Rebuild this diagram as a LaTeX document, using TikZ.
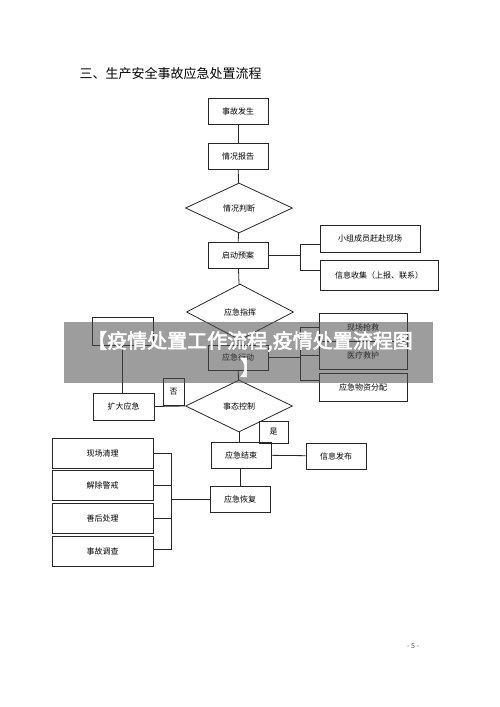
\documentclass[tikz,border=0pt]{standalone}
\usepackage{fontspec}
\setmainfont{Noto Sans CJK SC}
\newfontfamily\bannerfont[FakeBold=2.5]{Noto Sans CJK SC}
\usetikzlibrary{shapes.geometric}

\begin{document}
\begin{tikzpicture}[x=1pt,y=-1pt,
    box/.style={draw=black!85, line width=0.8pt, minimum width=60pt, minimum height=26pt, inner sep=1pt, font=\fontsize{8}{9}\selectfont},
    decision/.style={draw=black!85, line width=0.8pt, diamond, minimum width=107pt, minimum height=50pt, inner sep=0pt, font=\fontsize{8}{9}\selectfont},
    link/.style={draw=black!85, line width=0.8pt}]

    \useasboundingbox (0,0) rectangle (500,707);

    % Title
    \node[anchor=west, font=\fontsize{13}{15}\selectfont] (title) at (76,74) {三、生产安全事故应急处置流程};

    % Main column
    \node[box] (accident) at (238,111) {事故发生};
    \node[box] (report) at (238,156) {情况报告};
    \node[decision] (judge) at (239,208) {情况判断};
    \node[box] (plan) at (238,255) {启动预案};
    \node[decision, minimum height=56pt] (command) at (240,312) {应急指挥};
    \node[box, minimum height=25pt] (action) at (238,357.5) {应急行动};
    \node[decision, minimum height=52pt] (control) at (239,406) {事态控制};
    \node[box] (finish) at (241,455) {应急结束};
    \node[box] (recover) at (240,499) {应急恢复};

    % Side boxes
    \node[box, minimum width=100pt, minimum height=27pt] (team) at (370,238.5) {小组成员赶赴现场};
    \node[box, minimum width=118pt, minimum height=30pt] (info) at (379,275) {信息收集（上报、联系）};
    \node[box, minimum width=88pt, minimum height=28pt] (rescue) at (363,327) {现场抢救};
    \node[box, minimum width=88pt, minimum height=28pt] (medical) at (363,355) {医疗救护};
    \node[box, minimum width=88pt, minimum height=28pt] (supply) at (363,387) {应急物资分配};
    \node[box, minimum width=61pt, minimum height=28pt] (leftbox) at (122.5,331) {};
    \node[box, minimum width=61pt, minimum height=27pt] (expand) at (123.5,406.5) {扩大应急};
    \node[box, minimum width=21pt, minimum height=27pt] (no) at (173.5,391.5) {否};
    \node[box, minimum width=29pt, minimum height=22pt] (yes) at (273.5,432) {是};
    \node[box] (publish) at (336,456) {信息发布};

    % Recovery tasks
    \node[box, minimum width=101pt, minimum height=30pt] (clean) at (102.5,453) {现场清理};
    \node[box, minimum width=101pt, minimum height=30pt] (alarm) at (102.5,485.5) {解除警戒};
    \node[box, minimum width=101pt, minimum height=30pt] (after) at (102.5,518.5) {善后处理};
    \node[box, minimum width=101pt, minimum height=30pt] (survey) at (102.5,551) {事故调查};

    % Bracket corners
    \coordinate (p1) at (300,244);
    \coordinate (p2) at (300,270);
    \coordinate (a1) at (300,327);
    \coordinate (a2) at (300,380);
    \coordinate (r1) at (171,453);
    \coordinate (r2) at (171,549);

    % Connectors
    \draw[link] (accident) -- (report);
    \draw[link] (report) -- (judge);
    \draw[link] (judge) -- (plan);
    \draw[link] (plan) -- (command);
    \draw[link] (command) -- (action);
    \draw[link] (action) -- (control);
    \draw[link] (control.south) -- (control.south |- finish.north);
    \draw[link] (finish.south -| recover.north) -- (recover.north);
    \draw[link] (finish) -- (publish);
    \draw[link] (leftbox) -- (leftbox.south |- expand.north);
    \draw[link] (expand.east) -- (control.west);

    \draw[link] (plan.east) -- (plan.east -| p1);
    \draw[link] (team.west |- p1) -- (p1) -- (p2) -- (info.west |- p2);

    \draw[link] (action.east) -- (action.east -| a1);
    \draw[link] (rescue.west) -- (a1) -- (a2) -- (supply.west |- a2);
    \draw[link] (medical.west) -- (medical.west -| a1);

    \draw[link] (clean.east) -- (r1) -- (r2) -- (survey.east |- r2);
    \draw[link] (alarm.east) -- (alarm.east -| r1);
    \draw[link] (after.east) -- (after.east -| r1);
    \draw[link] (recover.west) -- (recover.west -| r1);

    % Page number
    \node[font=\fontsize{7}{8}\selectfont, text=black!70] (page) at (413,646) {- 5 -};

    % Banner
    \node[fill=black!70, fill opacity=0.55, minimum width=369pt, minimum height=61pt, inner sep=0pt] (banner) at (248.5,352.5) {};
    \node[text=white, font=\bannerfont\fontsize{20}{27}\selectfont, align=center] (bannertext) at (250,354) {【疫情处置工作流程,疫情处置流程图\\】};

\end{tikzpicture}
\end{document}
